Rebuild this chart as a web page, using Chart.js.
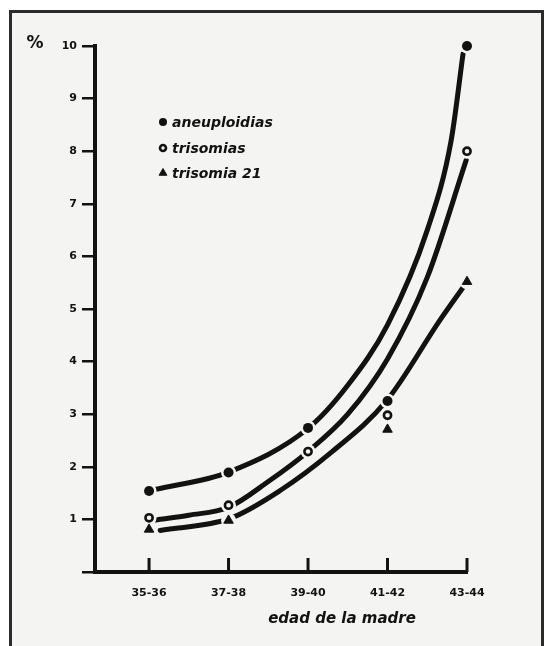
<!DOCTYPE html>
<html>
<head>
<meta charset="utf-8">
<title>Anomalías cromosómicas según la edad de la madre</title>
<script src="https://cdn.jsdelivr.net/npm/chart.js@4/dist/chart.umd.min.js"></script>
<style>
  html, body { margin: 0; padding: 0; background: #fff; }
  body { width: 547px; height: 646px; position: relative; overflow: hidden; }
  #frame {
    position: absolute; left: 9px; top: 10px; width: 529px; height: 650px;
    border: 3px solid #2b2b2b; background: #f4f4f3;
  }
  #chart { position: absolute; left: 0; top: 0; }
</style>
</head>
<body>
<div id="frame"></div>
<canvas id="chart" width="547" height="646"></canvas>
<script>
const ageGroups = ['35-36', '37-38', '39-40', '41-42', '43-44'];
const yTicks = [0, 1, 2, 3, 4, 5, 6, 7, 8, 9, 10];

// observed rates (%) per age group
const aneuploidias = [1.54, 1.89, 2.74, 3.25, 10.0];
const trisomias = [1.03, 1.27, 2.29, 2.98, 8.0];
const trisomia21 = [0.81, 0.98, null, 2.71, 5.52];

// hand-fitted curves, sampled along the age axis (index units)
const aneuCurveX = [0.08, 1.0, 2.0, 2.5, 3.0, 3.5, 3.8, 3.95];
const aneuCurveY = [1.57, 1.90, 2.73, 3.55, 4.70, 6.50, 8.20, 9.85];
const trisCurveX = [0.08, 0.5, 1.0, 1.5, 2.0, 2.5, 3.0, 3.5, 3.99];
const trisCurveY = [0.99, 1.08, 1.23, 1.72, 2.29, 3.00, 4.05, 5.60, 7.83];
const t21CurveX = [0.14, 1.02, 1.65, 2.28, 2.99, 3.66, 3.95];
const t21CurveY = [0.79, 1.02, 1.55, 2.26, 3.26, 4.79, 5.41];

const INK = '#121212';
const PAPER = '#f4f4f3';

function points(xs, ys) {
    return xs.map((x, i) => ({ x: x, y: ys[i] })).filter(p => p.y !== null);
}

function curve(xs, ys) {
    return {
        data: points(xs, ys),
        showLine: true,
        borderColor: INK,
        borderWidth: 5,
        borderCapStyle: 'round',
        cubicInterpolationMode: 'monotone',
        pointRadius: 0,
        clip: false,
        order: 3
    };
}

function halo(values) {
    return {
        data: points(ageGroups.map((_, i) => i), values),
        pointStyle: 'circle',
        pointRadius: 7.5,
        pointBackgroundColor: PAPER,
        pointBorderWidth: 0,
        clip: false,
        order: 2
    };
}

function marker(values, style) {
    return Object.assign({
        data: points(ageGroups.map((_, i) => i), values),
        clip: false,
        order: 1
    }, style);
}

const filledDot = { pointStyle: 'circle', pointRadius: 5, pointBackgroundColor: INK, pointBorderWidth: 0 };
const openDot = { pointStyle: 'circle', pointRadius: 3.6, pointBackgroundColor: PAPER, pointBorderColor: INK, pointBorderWidth: 2.6 };
const triangle = { pointStyle: 'triangle', pointRadius: 5.5, pointBackgroundColor: INK, pointBorderColor: INK, pointBorderWidth: 1 };

// axis title, inner x ticks, legend and the percent sign
const decor = {
    id: 'decor',
    afterDraw(chart) {
        const ctx = chart.ctx;
        const xs = chart.scales.x;
        const ys = chart.scales.y;
        ctx.save();
        ctx.strokeStyle = INK;
        ctx.lineWidth = 3;
        ageGroups.forEach((g, i) => {
            const px = xs.getPixelForValue(i);
            ctx.beginPath();
            ctx.moveTo(px, ys.bottom);
            ctx.lineTo(px, ys.bottom - 14);
            ctx.stroke();
        });

        ctx.fillStyle = INK;
        ctx.textBaseline = 'middle';
        ctx.textAlign = 'center';
        ctx.font = 'italic bold 15px "DejaVu Sans"';
        ctx.fillText('edad de la madre', 342, 619);

        ctx.font = 'bold 17px "DejaVu Sans"';
        ctx.fillText('%', 35, 44);

        const items = [
            { text: 'aneuploidias', style: filledDot, y: 122 },
            { text: 'trisomias', style: openDot, y: 148 },
            { text: 'trisomia 21', style: triangle, y: 173 }
        ];
        ctx.textAlign = 'left';
        ctx.font = 'italic bold 14px "DejaVu Sans"';
        items.forEach(it => {
            const s = it.style;
            ctx.fillStyle = s.pointBackgroundColor;
            ctx.strokeStyle = s.pointBorderColor || INK;
            ctx.lineWidth = s.pointBorderWidth;
            Chart.helpers.drawPoint(ctx, {
                pointStyle: s.pointStyle,
                radius: s.pointStyle === 'triangle' ? 4.5 : (s.pointBorderWidth ? 3 : 4),
                borderWidth: s.pointBorderWidth,
                rotation: 0
            }, 163, it.y);
            ctx.fillStyle = INK;
            ctx.fillText(it.text, 172, it.y + 1);
        });
        ctx.restore();
    }
};

new Chart(document.getElementById('chart'), {
    type: 'scatter',
    data: {
        datasets: [
            curve(aneuCurveX, aneuCurveY),
            curve(trisCurveX, trisCurveY),
            curve(t21CurveX, t21CurveY),
            halo(aneuploidias),
            halo(trisomias),
            halo(trisomia21),
            marker(aneuploidias, filledDot),
            marker(trisomias, openDot),
            marker(trisomia21, triangle)
        ]
    },
    options: {
        responsive: false,
        animation: false,
        events: [],
        layout: { padding: { left: 0, top: 46, right: 80, bottom: 0 } },
        plugins: { legend: { display: false }, tooltip: { enabled: false } },
        scales: {
            x: {
                type: 'linear',
                min: -0.68,
                max: 4,
                afterBuildTicks: s => { s.ticks = ageGroups.map((_, i) => ({ value: i })); },
                afterFit: s => { s.height = 74; },
                grid: { display: false, drawTicks: false },
                border: { color: INK, width: 4 },
                ticks: {
                    autoSkip: false,
                    maxRotation: 0,
                    padding: 15,
                    color: INK,
                    font: { family: 'DejaVu Sans', weight: 'bold', size: 11 },
                    callback: v => ageGroups[v]
                }
            },
            y: {
                min: 0,
                max: 10,
                afterBuildTicks: s => { s.ticks = yTicks.map(v => ({ value: v })); },
                afterFit: s => { s.width = 95; },
                grid: { drawOnChartArea: false, tickLength: 13, lineWidth: 2.5, color: INK },
                border: { color: INK, width: 4 },
                ticks: {
                    padding: 5,
                    color: INK,
                    font: { family: 'DejaVu Sans', weight: 'bold', size: 11 },
                    callback: v => v === 0 ? '' : v
                }
            }
        }
    },
    plugins: [decor]
});
</script>
</body>
</html>
